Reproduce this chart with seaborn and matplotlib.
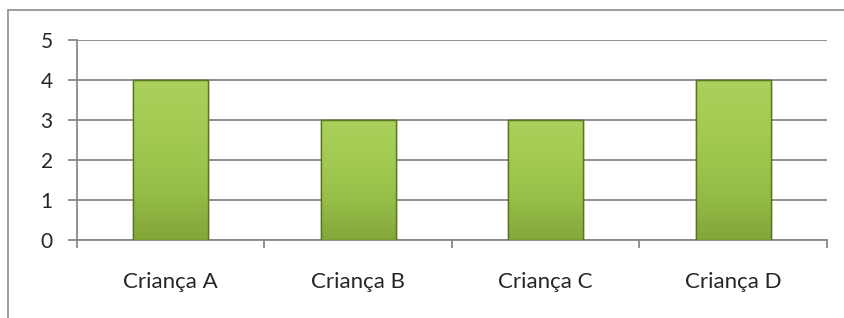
import numpy as np
import pandas as pd
import matplotlib.pyplot as plt
import seaborn as sns
from matplotlib.patches import Rectangle
from matplotlib.colors import LinearSegmentedColormap

# Chart data
criancas = ['Criança A', 'Criança B', 'Criança C', 'Criança D']
valores = [4, 3, 3, 4]
y_ticks = [0, 1, 2, 3, 4, 5]

data = pd.DataFrame({'crianca': criancas, 'valor': valores})

sns.set_style('white')
plt.rcParams['font.family'] = ['Lato', 'DejaVu Sans']

fig = plt.figure(figsize=(8.45, 3.18), dpi=100)
ax = fig.add_axes([77 / 845, 1 - 240 / 318, 750 / 845, 200 / 318])

# Outer frame of the chart area (runs off the right and bottom edge)
fig.patches.append(Rectangle((8 / 845, -0.2), 1.2, 0.2 + 1 - 10 / 318,
                             transform=fig.transFigure, fill=False,
                             edgecolor='#8c8c8c', linewidth=1.2))

sns.barplot(x='crianca', y='valor', data=data, ax=ax, width=0.4,
            color='#96c045', edgecolor='#5a7420', linewidth=1.0,
            saturation=1, zorder=3)

# soft vertical gradient inside each bar, like the Office bevel style
cmap = LinearSegmentedColormap.from_list('g', ['#84a73a', '#96bf49', '#a3cb53', '#a9d15b'])
grad = np.linspace(0, 1, 100).reshape(-1, 1)
for p in ax.patches:
    x0, y0 = p.get_x(), p.get_y()
    w, h = p.get_width(), p.get_height()
    im = ax.imshow(grad, cmap=cmap, aspect='auto', origin='lower',
                   extent=[x0, x0 + w, y0, y0 + h], zorder=3.5)
    im.set_clip_path(p)
    ax.add_patch(Rectangle((x0, y0), w, h, fill=False, edgecolor='#5a7420',
                           linewidth=1.0, zorder=4))

ax.set_xlim(-0.5, len(criancas) - 0.5)
ax.set_ylim(0, 5)
ax.set_yticks(y_ticks)
ax.set_xticks(np.arange(-0.5, len(criancas)), minor=True)
ax.grid(True, axis='y', color='#888888', linewidth=1.3, zorder=0)
ax.set_axisbelow(True)

for s in ['top', 'right']:
    ax.spines[s].set_visible(False)
for s in ['left', 'bottom']:
    ax.spines[s].set_color('#888888')
    ax.spines[s].set_linewidth(1.3)

ax.tick_params(axis='y', direction='out', length=6.5, width=1.3,
               color='#888888', pad=11, labelsize=15, left=True)
ax.tick_params(axis='x', which='major', length=0, pad=23, labelsize=16)
ax.tick_params(axis='x', which='minor', direction='out', length=6,
               width=1.3, color='#888888', bottom=True)
ax.set_xlabel('')
ax.set_ylabel('')

plt.savefig('out.png', dpi=100)
